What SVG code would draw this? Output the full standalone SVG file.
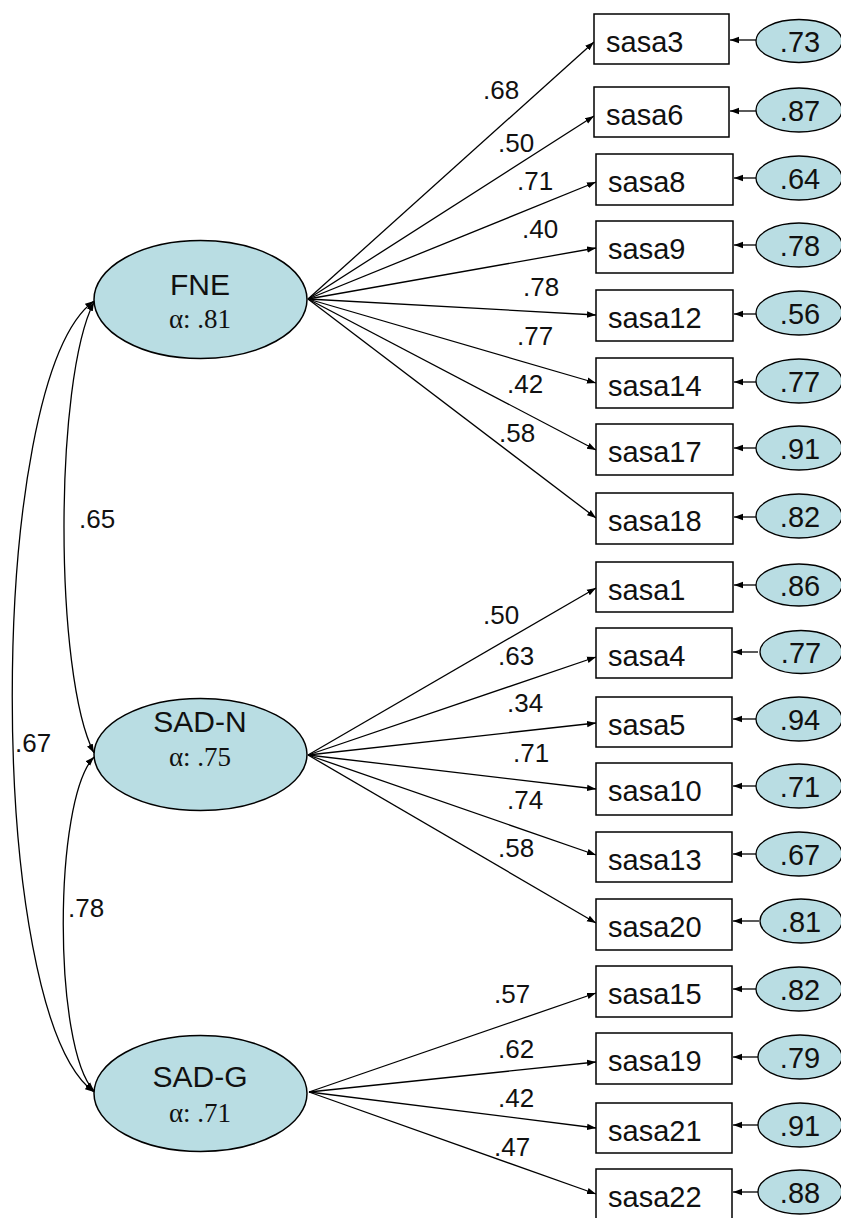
<svg xmlns="http://www.w3.org/2000/svg" width="841" height="1218" viewBox="0 0 841 1218">
<style>
.lat{fill:#b9dde3;stroke:#000;stroke-width:1.5}
.err{fill:#b9dde3;stroke:#000;stroke-width:1.3}
.box{fill:#fff;stroke:#000;stroke-width:1.5}
.ln{fill:none;stroke:#000;stroke-width:1.3}
.t1{font-family:"Liberation Sans",Arial,sans-serif;font-size:30px;fill:#111}
.t2{font-family:"Liberation Serif","Times New Roman",serif;font-size:27px;fill:#111}
.bt{font-family:"Liberation Sans",Arial,sans-serif;font-size:29px;fill:#111}
.et{font-family:"Liberation Sans",Arial,sans-serif;font-size:29px;fill:#111;text-anchor:middle}
.pl{font-family:"Liberation Sans",Arial,sans-serif;font-size:26px;fill:#111}
</style>
<defs>
<marker id="ah" markerUnits="userSpaceOnUse" markerWidth="10" markerHeight="8" refX="9" refY="4" orient="auto-start-reverse">
<path d="M0,0.8 L9,4 L0,7.2 z" fill="#000"/>
</marker>
</defs>

<g id="connectors">
<!-- correlations -->
<path class="ln" d="M94,301 C-15,380 -15,1013 94,1092" marker-start="url(#ah)" marker-end="url(#ah)"/>
<path class="ln" d="M94,302 C54,380 54,675 94,753" marker-start="url(#ah)" marker-end="url(#ah)"/>
<path class="ln" d="M94,757 C53,800 53,1048 94,1091" marker-start="url(#ah)" marker-end="url(#ah)"/>
<!-- FNE loadings -->
<line class="ln" x1="308" y1="299" x2="594" y2="42" marker-end="url(#ah)"/>
<line class="ln" x1="308" y1="299" x2="594" y2="116" marker-end="url(#ah)"/>
<line class="ln" x1="308" y1="299" x2="596" y2="182" marker-end="url(#ah)"/>
<line class="ln" x1="308" y1="299" x2="596" y2="248" marker-end="url(#ah)"/>
<line class="ln" x1="308" y1="299" x2="596" y2="315" marker-end="url(#ah)"/>
<line class="ln" x1="308" y1="299" x2="596" y2="383" marker-end="url(#ah)"/>
<line class="ln" x1="308" y1="299" x2="596" y2="450" marker-end="url(#ah)"/>
<line class="ln" x1="308" y1="299" x2="596" y2="518" marker-end="url(#ah)"/>
<!-- SAD-N loadings -->
<line class="ln" x1="308" y1="755" x2="596" y2="588" marker-end="url(#ah)"/>
<line class="ln" x1="308" y1="755" x2="596" y2="657" marker-end="url(#ah)"/>
<line class="ln" x1="308" y1="755" x2="596" y2="723" marker-end="url(#ah)"/>
<line class="ln" x1="308" y1="755" x2="596" y2="789" marker-end="url(#ah)"/>
<line class="ln" x1="308" y1="755" x2="596" y2="855" marker-end="url(#ah)"/>
<line class="ln" x1="308" y1="755" x2="596" y2="923" marker-end="url(#ah)"/>
<!-- SAD-G loadings -->
<line class="ln" x1="309" y1="1092" x2="596" y2="993" marker-end="url(#ah)"/>
<line class="ln" x1="309" y1="1092" x2="596" y2="1062" marker-end="url(#ah)"/>
<line class="ln" x1="309" y1="1092" x2="596" y2="1128" marker-end="url(#ah)"/>
<line class="ln" x1="309" y1="1092" x2="596" y2="1194" marker-end="url(#ah)"/>
<!-- error arrows -->
<line class="ln" x1="756" y1="40" x2="730" y2="40" marker-end="url(#ah)"/>
<line class="ln" x1="756" y1="111" x2="730" y2="111" marker-end="url(#ah)"/>
<line class="ln" x1="756" y1="178" x2="734" y2="178" marker-end="url(#ah)"/>
<line class="ln" x1="756" y1="245" x2="734" y2="245" marker-end="url(#ah)"/>
<line class="ln" x1="756" y1="314" x2="734" y2="314" marker-end="url(#ah)"/>
<line class="ln" x1="756" y1="382" x2="734" y2="382" marker-end="url(#ah)"/>
<line class="ln" x1="756" y1="448" x2="734" y2="448" marker-end="url(#ah)"/>
<line class="ln" x1="756" y1="517" x2="734" y2="517" marker-end="url(#ah)"/>
<line class="ln" x1="756" y1="585" x2="734" y2="585" marker-end="url(#ah)"/>
<line class="ln" x1="758" y1="652" x2="733" y2="652" marker-end="url(#ah)"/>
<line class="ln" x1="756" y1="719" x2="733" y2="719" marker-end="url(#ah)"/>
<line class="ln" x1="756" y1="786" x2="733" y2="786" marker-end="url(#ah)"/>
<line class="ln" x1="756" y1="854" x2="733" y2="854" marker-end="url(#ah)"/>
<line class="ln" x1="759" y1="921" x2="733" y2="921" marker-end="url(#ah)"/>
<line class="ln" x1="756" y1="989" x2="733" y2="989" marker-end="url(#ah)"/>
<line class="ln" x1="758" y1="1057" x2="733" y2="1057" marker-end="url(#ah)"/>
<line class="ln" x1="758" y1="1125" x2="733" y2="1125" marker-end="url(#ah)"/>
<line class="ln" x1="758" y1="1192" x2="733" y2="1192" marker-end="url(#ah)"/>
<!-- labels -->
<text class="pl" x="15" y="752">.67</text>
<text class="pl" x="79" y="528">.65</text>
<text class="pl" x="68" y="917">.78</text>
<text class="pl" x="483" y="99">.68</text>
<text class="pl" x="498" y="152">.50</text>
<text class="pl" x="517" y="190">.71</text>
<text class="pl" x="522" y="238">.40</text>
<text class="pl" x="523" y="296">.78</text>
<text class="pl" x="517" y="345">.77</text>
<text class="pl" x="507" y="393">.42</text>
<text class="pl" x="499" y="442">.58</text>
<text class="pl" x="483" y="624">.50</text>
<text class="pl" x="498" y="665">.63</text>
<text class="pl" x="507" y="712">.34</text>
<text class="pl" x="513" y="762">.71</text>
<text class="pl" x="507" y="809">.74</text>
<text class="pl" x="498" y="857">.58</text>
<text class="pl" x="494" y="1003">.57</text>
<text class="pl" x="498" y="1058">.62</text>
<text class="pl" x="498" y="1107">.42</text>
<text class="pl" x="494" y="1156">.47</text>
</g>

<g id="FNE">
<ellipse class="lat" cx="200.5" cy="299.5" rx="106.5" ry="59"/>
<text class="t1" x="200" y="295" text-anchor="middle">FNE</text>
<text class="t2" x="200" y="328" text-anchor="middle">α: .81</text>
</g>
<g id="SAD-N">
<ellipse class="lat" cx="200.5" cy="754.5" rx="106.5" ry="56"/>
<text class="t1" x="200" y="732" text-anchor="middle">SAD-N</text>
<text class="t2" x="200" y="766" text-anchor="middle">α: .75</text>
</g>
<g id="SAD-G">
<ellipse class="lat" cx="200.5" cy="1093.5" rx="106.5" ry="58"/>
<text class="t1" x="200" y="1087" text-anchor="middle">SAD-G</text>
<text class="t2" x="200" y="1122" text-anchor="middle">α: .71</text>
</g>

<g id="sasa3"><rect class="box" x="594" y="14" width="135" height="50"/><text class="bt" x="606" y="52">sasa3</text></g>
<g id="sasa6"><rect class="box" x="594" y="87" width="135" height="50"/><text class="bt" x="606" y="125">sasa6</text></g>
<g id="sasa8"><rect class="box" x="596" y="154" width="137" height="51"/><text class="bt" x="608" y="192">sasa8</text></g>
<g id="sasa9"><rect class="box" x="596" y="221" width="137" height="52"/><text class="bt" x="608" y="259">sasa9</text></g>
<g id="sasa12"><rect class="box" x="596" y="290" width="137" height="51"/><text class="bt" x="608" y="328">sasa12</text></g>
<g id="sasa14"><rect class="box" x="596" y="358" width="137" height="50"/><text class="bt" x="608" y="396">sasa14</text></g>
<g id="sasa17"><rect class="box" x="596" y="424" width="137" height="51"/><text class="bt" x="608" y="462">sasa17</text></g>
<g id="sasa18"><rect class="box" x="596" y="493" width="137" height="51"/><text class="bt" x="608" y="531">sasa18</text></g>
<g id="sasa1"><rect class="box" x="596" y="562" width="137" height="50"/><text class="bt" x="608" y="600">sasa1</text></g>
<g id="sasa4"><rect class="box" x="596" y="628" width="136" height="50"/><text class="bt" x="608" y="666">sasa4</text></g>
<g id="sasa5"><rect class="box" x="596" y="697" width="136" height="50"/><text class="bt" x="608" y="735">sasa5</text></g>
<g id="sasa10"><rect class="box" x="596" y="763" width="136" height="52"/><text class="bt" x="608" y="801">sasa10</text></g>
<g id="sasa13"><rect class="box" x="596" y="832" width="136" height="50"/><text class="bt" x="608" y="870">sasa13</text></g>
<g id="sasa20"><rect class="box" x="596" y="899" width="136" height="51"/><text class="bt" x="608" y="937">sasa20</text></g>
<g id="sasa15"><rect class="box" x="596" y="966" width="136" height="51"/><text class="bt" x="608" y="1004">sasa15</text></g>
<g id="sasa19"><rect class="box" x="596" y="1033" width="136" height="51"/><text class="bt" x="608" y="1071">sasa19</text></g>
<g id="sasa21"><rect class="box" x="596" y="1103" width="136" height="50"/><text class="bt" x="608" y="1141">sasa21</text></g>
<g id="sasa22"><rect class="box" x="596" y="1169" width="136" height="51"/><text class="bt" x="608" y="1207">sasa22</text></g>

<g id="e3"><ellipse class="err" cx="799" cy="41" rx="43" ry="21.5"/><text class="et" x="800" y="52">.73</text></g>
<g id="e6"><ellipse class="err" cx="799" cy="110" rx="43" ry="22"/><text class="et" x="800" y="121">.87</text></g>
<g id="e8"><ellipse class="err" cx="799" cy="178" rx="43" ry="22"/><text class="et" x="800" y="189">.64</text></g>
<g id="e9"><ellipse class="err" cx="799" cy="245" rx="43" ry="22"/><text class="et" x="800" y="256">.78</text></g>
<g id="e12"><ellipse class="err" cx="799" cy="313" rx="43" ry="22"/><text class="et" x="800" y="324">.56</text></g>
<g id="e14"><ellipse class="err" cx="799" cy="381" rx="43" ry="22"/><text class="et" x="800" y="392">.77</text></g>
<g id="e17"><ellipse class="err" cx="799" cy="448" rx="43" ry="22"/><text class="et" x="800" y="459">.91</text></g>
<g id="e18"><ellipse class="err" cx="799" cy="516" rx="43" ry="22"/><text class="et" x="800" y="527">.82</text></g>
<g id="e1"><ellipse class="err" cx="799" cy="585" rx="43" ry="21"/><text class="et" x="800" y="596">.86</text></g>
<g id="e4"><ellipse class="err" cx="801" cy="652" rx="41" ry="21.5"/><text class="et" x="801" y="663">.77</text></g>
<g id="e5"><ellipse class="err" cx="799" cy="719" rx="43" ry="22"/><text class="et" x="800" y="730">.94</text></g>
<g id="e10"><ellipse class="err" cx="799" cy="786" rx="43" ry="22"/><text class="et" x="800" y="797">.71</text></g>
<g id="e13"><ellipse class="err" cx="799" cy="854" rx="43" ry="22"/><text class="et" x="800" y="865">.67</text></g>
<g id="e20"><ellipse class="err" cx="801" cy="921" rx="41" ry="22"/><text class="et" x="801" y="932">.81</text></g>
<g id="e15"><ellipse class="err" cx="799" cy="989" rx="43" ry="22"/><text class="et" x="800" y="1000">.82</text></g>
<g id="e19"><ellipse class="err" cx="800" cy="1057" rx="42" ry="22"/><text class="et" x="800" y="1068">.79</text></g>
<g id="e21"><ellipse class="err" cx="800" cy="1125" rx="42" ry="22"/><text class="et" x="800" y="1136">.91</text></g>
<g id="e22"><ellipse class="err" cx="800" cy="1192" rx="42" ry="22"/><text class="et" x="800" y="1203">.88</text></g>
</svg>
